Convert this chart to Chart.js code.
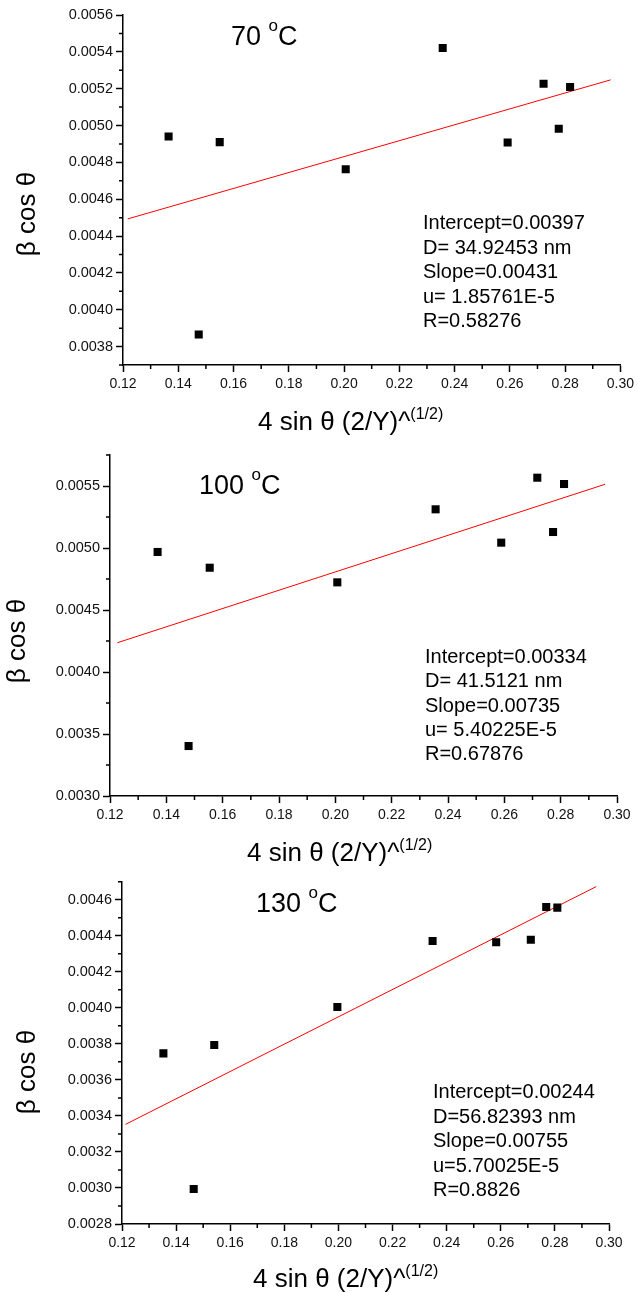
<!DOCTYPE html>
<html>
<head>
<meta charset="utf-8">
<script src="https://cdn.jsdelivr.net/npm/chart.js@4.4.1/dist/chart.umd.min.js"></script>
<style>
  body { margin: 0; background: #fff; }
  #wrap { position: relative; width: 638px; height: 1292px; }
  canvas { position: absolute; left: 0; }
</style>
</head>
<body>
<div id="wrap">
  <canvas id="c70" width="638" height="440" style="top:0"></canvas>
  <canvas id="c100" width="638" height="430" style="top:440px"></canvas>
  <canvas id="c130" width="638" height="422" style="top:870px"></canvas>
</div>
<script>
// shared x ticks
const xTicks = [0.12, 0.14, 0.16, 0.18, 0.20, 0.22, 0.24, 0.26, 0.28, 0.30];

// 70 C
const x70 = [0.1365, 0.1474, 0.1550, 0.2006, 0.2357, 0.2592, 0.2722, 0.2777, 0.2818];
const y70 = [0.004940, 0.003866, 0.004910, 0.004763, 0.005421, 0.004908, 0.005227, 0.004982, 0.005209];
const fitX70 = [0.1217, 0.2965];
const fitY70 = [0.004493, 0.005248];
const yTicks70 = [0.0038, 0.0040, 0.0042, 0.0044, 0.0046, 0.0048, 0.0050, 0.0052, 0.0054, 0.0056];
const stats70 = ['Intercept=0.00397', 'D= 34.92453 nm', 'Slope=0.00431', 'u= 1.85761E-5', 'R=0.58276'];

// 100 C
const x100 = [0.1369, 0.1479, 0.1554, 0.2007, 0.2356, 0.2589, 0.2717, 0.2773, 0.2812];
const y100 = [0.004968, 0.003403, 0.004841, 0.004723, 0.005312, 0.005043, 0.005567, 0.005129, 0.005516];
const fitX100 = [0.1226, 0.2958];
const fitY100 = [0.004236, 0.005514];
const yTicks100 = [0.0030, 0.0035, 0.0040, 0.0045, 0.0050, 0.0055];
const stats100 = ['Intercept=0.00334', 'D= 41.5121 nm', 'Slope=0.00735', 'u= 5.40225E-5', 'R=0.67876'];

// 130 C
const x130 = [0.1353, 0.1465, 0.1541, 0.1996, 0.2348, 0.2583, 0.2711, 0.2768, 0.2809];
const y130 = [0.003747, 0.002994, 0.003794, 0.004005, 0.004371, 0.004364, 0.004378, 0.004560, 0.004556];
const fitX130 = [0.1213, 0.2953];
const fitY130 = [0.003353, 0.004673];
const yTicks130 = [0.0028, 0.0030, 0.0032, 0.0034, 0.0036, 0.0038, 0.0040, 0.0042, 0.0044, 0.0046];
const stats130 = ['Intercept=0.00244', 'D=56.82393 nm', 'Slope=0.00755', 'u=5.70025E-5', 'R=0.8826'];

const FONT = 'Arial, "Liberation Sans", sans-serif';

function drawRich(ctx, parts, x, y) {
  ctx.textAlign = 'left';
  ctx.textBaseline = 'alphabetic';
  parts.forEach(p => {
    ctx.font = p.size + 'px ' + FONT;
    ctx.fillText(p.t, x, y + (p.dy || 0));
    x += ctx.measureText(p.t).width;
  });
}

function minorValues(ticks, min, max) {
  const out = [];
  const step = ticks[1] - ticks[0];
  const cand = [ticks[0] - step / 2];
  for (let i = 0; i < ticks.length - 1; i++) cand.push((ticks[i] + ticks[i + 1]) / 2);
  cand.push(ticks[ticks.length - 1] + step / 2);
  const eps = step * 1e-3;
  cand.forEach(v => { if (v >= min - eps && v <= max + eps) out.push(v); });
  return out;
}

const panelText = {
  id: 'panelText',
  afterDraw(chart, args, o) {
    const ctx = chart.ctx;
    const xs = chart.scales.x, ys = chart.scales.y;
    const area = chart.chartArea;
    ctx.save();
    // minor ticks
    ctx.strokeStyle = '#000';
    ctx.lineWidth = 1.5;
    ctx.beginPath();
    minorValues(xTicks, xs.min, xs.max).forEach(v => {
      const px = xs.getPixelForValue(v);
      ctx.moveTo(px, area.bottom);
      ctx.lineTo(px, area.bottom + 4);
    });
    minorValues(o.yTicks, ys.min, ys.max).forEach(v => {
      const py = ys.getPixelForValue(v);
      ctx.moveTo(area.left, py);
      ctx.lineTo(area.left - 4, py);
    });
    ctx.stroke();

    ctx.fillStyle = '#000';
    // temperature label
    drawRich(ctx, [
      {t: o.temp + ' ', size: 27},
      {t: 'o', size: 17, dy: -14},
      {t: 'C', size: 27}
    ], o.titleX, o.titleY);
    // fit results
    ctx.font = '20px ' + FONT;
    o.stats.forEach((s, i) => ctx.fillText(s, o.statX, o.statY + i * o.statGap));
    // x axis title
    drawRich(ctx, [
      {t: '4 sin \u03b8 (2/Y)^', size: 26},
      {t: '(1/2)', size: 16, dy: -11}
    ], o.xTitleX, o.xTitleY);
    // y axis title
    ctx.translate(o.yTitleX, o.yTitleY);
    ctx.rotate(-Math.PI / 2);
    ctx.font = '26px ' + FONT;
    ctx.textAlign = 'center';
    ctx.textBaseline = 'middle';
    ctx.fillText('\u03b2 cos \u03b8', 0, 0);
    ctx.restore();
  }
};

function makePanel(id, p) {
  const pts = p.xs.map((x, i) => ({x: x, y: p.ys[i]}));
  const fit = p.fitX.map((x, i) => ({x: x, y: p.fitY[i]}));
  new Chart(document.getElementById(id).getContext('2d'), {
    type: 'scatter',
    data: {
      datasets: [{
        data: pts,
        pointStyle: 'rect',
        pointRadius: 5.7,
        pointBorderWidth: 0,
        backgroundColor: '#000',
        borderColor: '#000'
      }, {
        type: 'line',
        data: fit,
        borderColor: '#ff0000',
        borderWidth: 1,
        pointRadius: 0,
        fill: false
      }]
    },
    options: {
      responsive: false,
      animation: false,
      devicePixelRatio: 1,
      layout: {
        autoPadding: false,
        padding: {left: 0, top: p.top, right: p.right, bottom: 0}
      },
      plugins: {
        legend: {display: false},
        tooltip: {enabled: false},
        panelText: p.text
      },
      scales: {
        x: {
          type: 'linear',
          min: 0.12,
          max: 0.30,
          afterBuildTicks: s => { s.ticks = xTicks.map(v => ({value: v})); },
          afterFit: s => { s.height = p.xHeight; },
          border: {display: true, color: '#000', width: 1.5},
          grid: {drawOnChartArea: false, tickLength: 7, tickWidth: 1.5, tickColor: '#000'},
          ticks: {
            callback: v => v.toFixed(2),
            font: {family: FONT, size: 14},
            color: '#111',
            padding: 4,
            maxRotation: 0,
            autoSkip: false
          }
        },
        y: {
          type: 'linear',
          min: p.yMin,
          max: p.yMax,
          afterBuildTicks: s => { s.ticks = p.text.yTicks.map(v => ({value: v})); },
          afterFit: s => { s.width = p.left; },
          border: {display: true, color: '#000', width: 1.5},
          grid: {drawOnChartArea: false, tickLength: 7, tickWidth: 1.5, tickColor: '#000'},
          ticks: {
            callback: v => v.toFixed(4),
            font: {family: FONT, size: 14.5},
            color: '#111',
            padding: 3,
            autoSkip: false
          }
        }
      }
    },
    plugins: [panelText]
  });
}

makePanel('c70', {
  xs: x70, ys: y70, fitX: fitX70, fitY: fitY70,
  yMin: 0.0037, yMax: 0.0056,
  left: 123, top: 15, right: 15, xHeight: 75,
  text: {
    yTicks: yTicks70, temp: '70', stats: stats70,
    titleX: 231, titleY: 45,
    statX: 423, statY: 229, statGap: 24.5,
    xTitleX: 258, xTitleY: 430,
    yTitleX: 28, yTitleY: 214
  }
});

makePanel('c100', {
  xs: x100, ys: y100, fitX: fitX100, fitY: fitY100,
  yMin: 0.0030, yMax: 0.00575,
  left: 110, top: 15, right: 21, xHeight: 74,
  text: {
    yTicks: yTicks100, temp: '100', stats: stats100,
    titleX: 199, titleY: 54,
    statX: 425, statY: 223, statGap: 24.3,
    xTitleX: 247, xTitleY: 421,
    yTitleX: 18, yTitleY: 201
  }
});

makePanel('c130', {
  xs: x130, ys: y130, fitX: fitX130, fitY: fitY130,
  yMin: 0.0028, yMax: 0.0047,
  left: 122, top: 8, right: 29, xHeight: 68,
  text: {
    yTicks: yTicks130, temp: '130', stats: stats130,
    titleX: 256, titleY: 42,
    statX: 433, statY: 228, statGap: 24.5,
    xTitleX: 253, xTitleY: 417,
    yTitleX: 28, yTitleY: 202
  }
});
</script>
</body>
</html>
